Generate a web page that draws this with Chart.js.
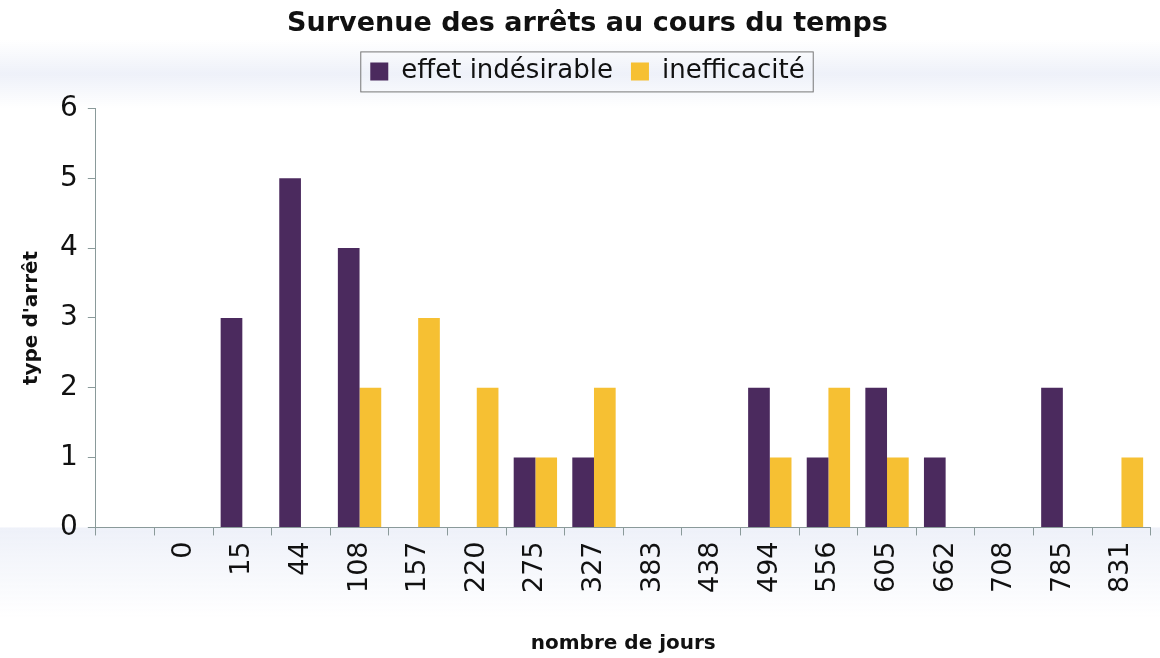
<!DOCTYPE html>
<html>
<head>
<meta charset="utf-8">
<script src="https://cdn.jsdelivr.net/npm/chart.js@4"></script>
<style>
  html, body { margin: 0; padding: 0; background: #fff; }
  #wrap { width: 1160px; height: 658px; position: relative; }
</style>
</head>
<body>
<div id="wrap"><canvas id="chart"></canvas></div>
<script>
// nombre de jours (first category is empty in the original)
const days = ['', '0', '15', '44', '108', '157', '220', '275', '327', '383', '438', '494', '556', '605', '662', '708', '785', '831'];
const effetIndesirable = [0, 0, 3, 5, 4, 0, 0, 1, 1, 0, 0, 2, 1, 2, 1, 0, 2, 0];
const inefficacite     = [0, 0, 0, 0, 2, 3, 2, 1, 2, 0, 0, 1, 2, 1, 0, 0, 0, 1];
const yTicks = [0, 1, 2, 3, 4, 5, 6];

const PURPLE = '#4b2a5e';
const YELLOW = '#f6c033';
const AXIS = '#8a9a9a';
const FONT = 'DejaVu Sans, Liberation Sans, sans-serif';

// extra room under the legend
const legendMargin = {
  id: 'legendMargin',
  beforeInit(chart) {
    const fit = chart.legend.fit;
    chart.legend.fit = function () {
      fit.call(this);
      this.height += 14;
    };
  }
};

// faint bluish bands behind the legend and the day labels (scanned spreadsheet look)
const bands = {
  id: 'bands',
  beforeDraw(chart) {
    const { ctx, width, chartArea } = chart;
    ctx.save();
    let g = ctx.createLinearGradient(0, 40, 0, 108);
    g.addColorStop(0, 'rgba(238,241,249,0)');
    g.addColorStop(0.5, 'rgba(238,241,249,1)');
    g.addColorStop(1, 'rgba(238,241,249,0)');
    ctx.fillStyle = g;
    ctx.fillRect(0, 40, width, 68);
    g = ctx.createLinearGradient(0, chartArea.bottom, 0, chartArea.bottom + 90);
    g.addColorStop(0, 'rgba(238,241,249,1)');
    g.addColorStop(1, 'rgba(238,241,249,0)');
    ctx.fillStyle = g;
    ctx.fillRect(0, chartArea.bottom, width, 90);
    ctx.restore();
  }
};

// box around the legend items, like the spreadsheet original
const legendBorder = {
  id: 'legendBorder',
  afterDraw(chart) {
    const boxes = chart.legend && chart.legend.legendHitBoxes;
    if (!boxes || !boxes.length) return;
    const left = Math.min(...boxes.map(b => b.left)) - 10;
    const right = Math.max(...boxes.map(b => b.left + b.width)) + 8;
    const top = Math.min(...boxes.map(b => b.top)) - 7;
    const bottom = Math.max(...boxes.map(b => b.top + b.height)) + 7;
    const ctx = chart.ctx;
    ctx.save();
    ctx.strokeStyle = '#777';
    ctx.lineWidth = 1;
    ctx.strokeRect(left + 0.5, top + 0.5, right - left, bottom - top);
    ctx.restore();
  }
};

const ctx = document.getElementById('chart');
new Chart(ctx, {
  type: 'bar',
  data: {
    labels: days,
    datasets: [
      { label: 'effet indésirable', data: effetIndesirable, backgroundColor: PURPLE },
      { label: 'inefficacité', data: inefficacite, backgroundColor: YELLOW }
    ]
  },
  options: {
    responsive: true,
    maintainAspectRatio: false,
    animation: false,
    layout: { padding: { left: 20, right: 5, top: 4, bottom: 2 } },
    datasets: {
      bar: { categoryPercentage: 0.74, barPercentage: 1.0 }
    },
    plugins: {
      title: {
        display: true,
        text: 'Survenue des arrêts au cours du temps',
        color: '#111',
        font: { family: FONT, size: 27, weight: 'bold' },
        padding: { top: 4, bottom: 0 }
      },
      legend: {
        display: true,
        position: 'top',
        labels: {
          color: '#111',
          font: { family: FONT, size: 26 },
          boxWidth: 18,
          boxHeight: 18,
          padding: 18
        }
      },
      tooltip: { enabled: false }
    },
    scales: {
      x: {
        grid: { display: true, drawOnChartArea: false, color: AXIS, tickLength: 8, offset: true },
        border: { color: AXIS },
        ticks: {
          color: '#111',
          maxRotation: 90,
          minRotation: 90,
          autoSkip: false,
          padding: 6,
          font: { family: FONT, size: 27 }
        },
        title: {
          display: true,
          text: 'nombre de jours',
          color: '#111',
          font: { family: FONT, size: 20, weight: 'bold' },
          padding: { top: 33, bottom: 0 }
        }
      },
      y: {
        min: 0,
        max: 6,
        afterBuildTicks(axis) { axis.ticks = yTicks.map(v => ({ value: v })); },
        grid: { display: true, drawOnChartArea: false, color: AXIS, tickLength: 8 },
        border: { color: AXIS },
        ticks: {
          color: '#111',
          padding: 10,
          font: { family: FONT, size: 28 }
        },
        title: {
          display: true,
          text: "type d'arrêt",
          color: '#111',
          font: { family: FONT, size: 20, weight: 'bold' },
          padding: { top: 0, bottom: 6 }
        }
      }
    }
  },
  plugins: [legendMargin, bands, legendBorder]
});
</script>
</body>
</html>
